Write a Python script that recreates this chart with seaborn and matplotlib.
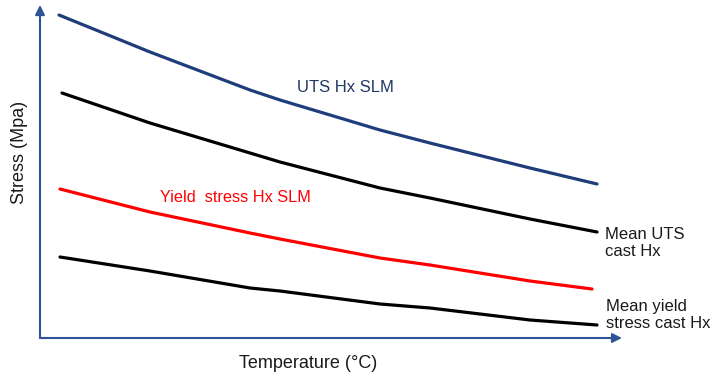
import matplotlib
matplotlib.use("Agg")
import matplotlib.pyplot as plt
import seaborn as sns
import pandas as pd

# Values (arbitrary units; no scale is shown)
temp_uts_slm = [19, 110, 210, 240, 340, 390, 490, 557]
stress_uts_slm = [323, 286, 248, 238, 208, 195, 170, 154]

temp_uts_cast = [22, 110, 210, 240, 340, 390, 490, 557]
stress_uts_cast = [245, 215, 185, 176, 150, 140, 119, 106]

temp_ys_slm = [20, 110, 210, 240, 340, 390, 490, 552]
stress_ys_slm = [149, 126, 105, 99, 80, 73, 57, 49]

temp_ys_cast = [20, 110, 210, 240, 340, 390, 490, 557]
stress_ys_cast = [81, 67, 50, 47, 34, 30, 18, 13]

series_names = ["UTS Hx SLM", "Mean UTS cast Hx", "Yield stress Hx SLM", "Mean yield stress cast Hx"]
series_colors = ["#1F3D7A", "#000000", "#FF0000", "#000000"]

frames = []
for name, t, s in zip(series_names,
                      [temp_uts_slm, temp_uts_cast, temp_ys_slm, temp_ys_cast],
                      [stress_uts_slm, stress_uts_cast, stress_ys_slm, stress_ys_cast]):
    frames.append(pd.DataFrame({"Temperature": t, "Stress": s, "Series": name}))
df = pd.concat(frames, ignore_index=True)

sns.set_theme(style="white")
plt.rcParams["font.family"] = ["Liberation Sans", "DejaVu Sans"]

W, H = 716, 376
fig = plt.figure(figsize=(W / 100, H / 100), dpi=100)
ax = fig.add_axes([40 / W, (H - 338) / H, (622 - 40) / W, (338 - 5) / H])

sns.lineplot(data=df, x="Temperature", y="Stress", hue="Series",
             palette=dict(zip(series_names, series_colors)),
             linewidth=2.3, legend=False, ax=ax, estimator=None, sort=True)

ax.set_xlim(0, 582)
ax.set_ylim(0, 333)
ax.set_xticks([])
ax.set_yticks([])
ax.set_xlabel("")
ax.set_ylabel("")
for sp in ax.spines.values():
    sp.set_visible(False)

axis_color = "#2F5597"
ax.annotate("", xy=(0, 1.0), xytext=(0, 0), xycoords="axes fraction",
            arrowprops=dict(arrowstyle="-|>", color=axis_color, lw=1.5,
                            mutation_scale=14, shrinkA=0, shrinkB=0),
            annotation_clip=False)
ax.annotate("", xy=(1.0, 0), xytext=(0, 0), xycoords="axes fraction",
            arrowprops=dict(arrowstyle="-|>", color=axis_color, lw=1.5,
                            mutation_scale=14, shrinkA=0, shrinkB=0),
            annotation_clip=False)

ax.text(257, 250, "UTS Hx SLM", color="#1F3864", fontsize=12, ha="left", va="center")
ax.text(120, 140, "Yield  stress Hx SLM", color="#FF0000", fontsize=11.7, ha="left", va="center")
ax.text(565, 95, "Mean UTS\ncast Hx", color="#1a1a1a", fontsize=12, ha="left", va="center",
        linespacing=1.2, clip_on=False)
ax.text(566, 23, "Mean yield\nstress cast Hx", color="#1a1a1a", fontsize=12, ha="left", va="center",
        linespacing=1.2, clip_on=False)

fig.text(239 / W, 1 - 363 / H, "Temperature (°C)", fontsize=13, color="#1a1a1a",
         ha="left", va="center")
fig.text(20 / W, 1 - 152 / H, "Stress (Mpa)", fontsize=13, color="#1a1a1a",
         ha="center", va="center", rotation=90)

fig.savefig("out.png", dpi=100)
